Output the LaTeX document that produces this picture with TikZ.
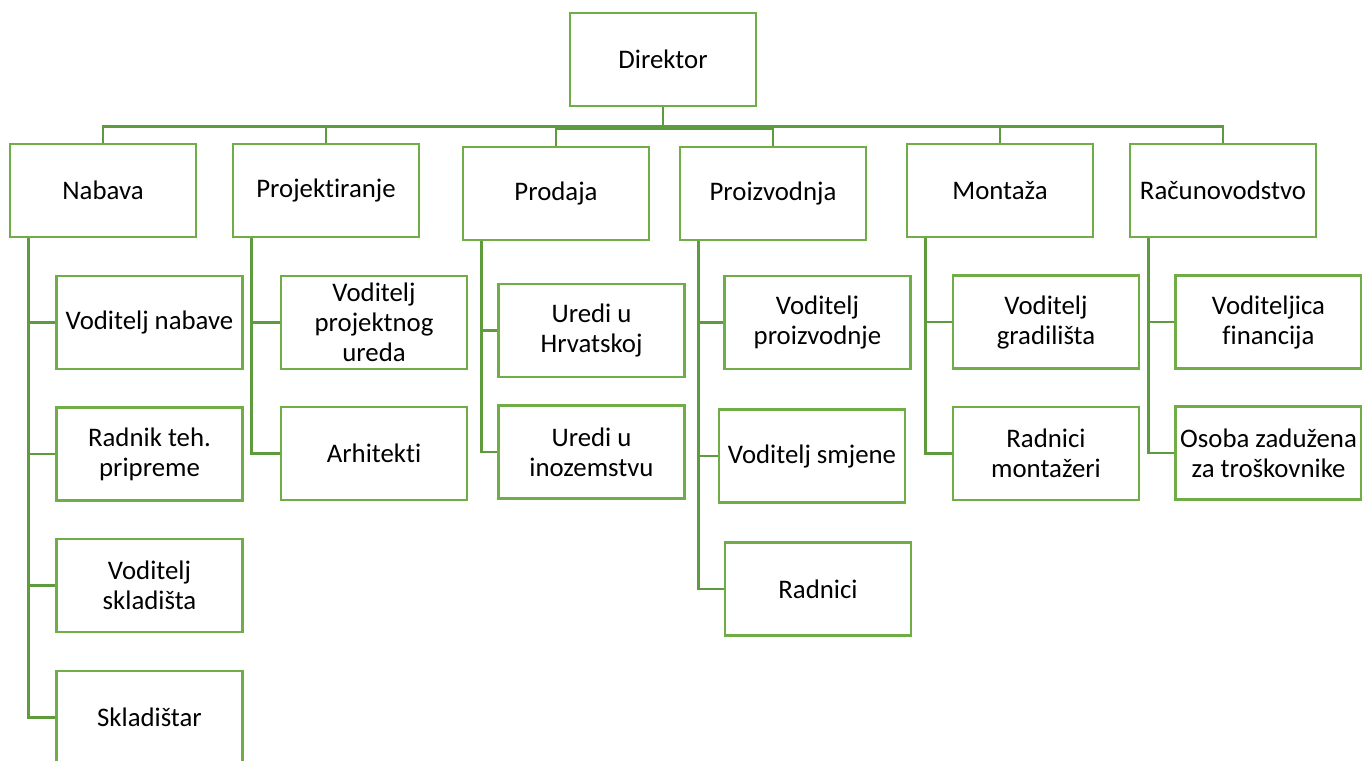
\documentclass[tikz,border=0pt]{standalone}
\usepackage{fontspec}
\setmainfont{Carlito}[Ligatures={NoCommon}]
\definecolor{boxgreen}{HTML}{70AD47}
\definecolor{linegreen}{HTML}{5E9B3D}
\begin{document}
\begin{tikzpicture}[x=1pt,y=-1pt,
  unit/.style={draw=boxgreen, line width=2.5pt, fill=white, minimum width=186pt, minimum height=93pt,
    inner sep=0pt, align=center, font=\fontsize{26.8}{30}\selectfont, text=black},
  conn/.style={draw=linegreen, line width=2.6pt}]
\useasboundingbox (0,0) rectangle (1362,760);
\clip (0,0) rectangle (1362,760);
% top level
\node[unit] (dir) at (663,59.5) {Direktor};
% departments
\node[unit] (nabava) at (103,190.5) {Nabava};
\node[unit] (proj) at (326,190.5) {Projektiranje};
\node[unit] (prodaja) at (556,193.5) {Prodaja};
\node[unit] (proizv) at (773,193.5) {Proizvodnja};
\node[unit] (montaza) at (1000,190.5) {Montaža};
\node[unit] (racun) at (1223,190.5) {Računovodstvo};
% children
\node[unit] (vn) at (149.5,322.5) {Voditelj nabave};
\node[unit] (rtp) at (149.5,454) {Radnik teh.\\pripreme};
\node[unit] (vs) at (149.5,585.5) {Voditelj\\skladišta};
\node[unit] (sk) at (149.5,717.5) {Skladištar};
\node[unit] (vpu) at (374,322.5) {Voditelj\\projektnog\\ureda};
\node[unit] (arh) at (374,453.5) {Arhitekti};
\node[unit] (uh) at (591.5,330.5) {Uredi u\\Hrvatskoj};
\node[unit] (ui) at (591.5,452) {Uredi u\\inozemstvu};
\node[unit] (vp) at (817.5,322.5) {Voditelj\\proizvodnje};
\node[unit] (vsm) at (812,456) {Voditelj smjene};
\node[unit] (rad) at (818,589) {Radnici};
\node[unit] (vg) at (1046,322) {Voditelj\\gradilišta};
\node[unit] (rm) at (1046,453.5) {Radnici\\montažeri};
\node[unit] (vf) at (1268.5,322) {Voditeljica\\financija};
\node[unit] (oz) at (1268.5,453) {Osoba zadužena\\za troškovnike};
% top connectors
\draw[conn] (dir.south) -- ++(0,19) -| (nabava.north);
\draw[conn] (dir.south) -- ++(0,19) -| (proj.north);
\draw[conn] (dir.south) -- ++(0,21) -| (prodaja.north);
\draw[conn] (dir.south) -- ++(0,21) -| (proizv.north);
\draw[conn] (dir.south) -- ++(0,19) -| (montaza.north);
\draw[conn] (dir.south) -- ++(0,19) -| (racun.north);
% child connectors
\foreach \p/\c in {nabava/vn, nabava/rtp, nabava/vs, nabava/sk,
                   proj/vpu, proj/arh,
                   prodaja/uh, prodaja/ui,
                   proizv/vp, proizv/vsm, proizv/rad,
                   montaza/vg, montaza/rm,
                   racun/vf, racun/oz}
  \draw[conn] (\p.south west) ++(19.5,0) |- (\c.west);
\end{tikzpicture}
\end{document}
